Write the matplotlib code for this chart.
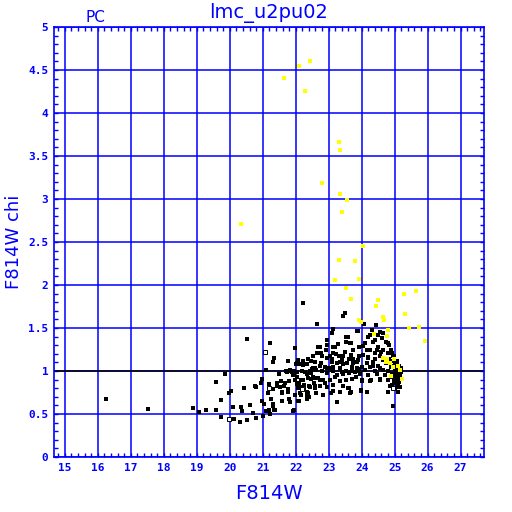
import matplotlib
matplotlib.use("Agg")
import matplotlib.pyplot as plt
from matplotlib.ticker import MultipleLocator

# ---------------- data ----------------
black_x = [
    16.25, 17.51, 18.90, 19.06, 19.27, 19.59, 19.57, 19.87, 19.73, 19.73, 19.97, 20.03, 20.09, 20.12,
    20.31, 20.35, 20.38, 20.42, 20.51, 20.60, 20.69, 20.78, 20.81,
    20.51, 21.21, 21.33, 21.31, 21.78, 21.10, 21.50, 21.72, 21.79, 20.99, 20.95, 21.18, 21.43, 21.55,
    21.68, 21.30, 21.51, 21.64, 21.77, 20.79, 20.43, 21.16, 21.24, 21.58, 21.30, 20.98, 21.04, 21.19,
    21.34, 21.22, 20.61, 20.70, 20.79, 21.00, 21.80, 21.58, 21.80,
    22.21, 23.49, 23.44, 22.66, 23.12, 23.10, 23.85, 23.59, 22.96, 23.29, 23.52, 23.67, 23.14, 22.73,
    21.97, 22.92, 22.78, 23.74, 23.49, 23.13, 23.32, 23.67, 22.94, 23.09, 23.39, 23.62, 22.06, 22.45,
    22.59, 22.78, 22.03, 22.11, 22.23, 22.35, 23.24, 23.44, 23.74, 23.85, 22.89, 23.04, 23.14, 23.34,
    23.70, 22.51, 22.63, 21.88, 21.95, 22.05, 22.18, 22.28, 22.43, 22.79, 22.94, 23.14, 23.39, 23.54,
    23.62, 23.70, 23.80, 23.90, 21.92, 21.98, 22.05, 22.21, 22.38, 22.53, 22.68, 22.83, 23.04, 23.19,
    23.34, 23.54, 23.70, 22.03, 22.13, 22.25, 22.43, 22.58, 22.73, 22.96, 23.14, 23.44, 23.59, 23.67,
    22.12, 22.38, 22.63, 22.83, 23.14, 23.34, 22.08, 22.33, 23.24, 21.95,
    24.42, 24.08, 24.32, 23.88, 24.20, 24.50, 24.62, 24.81, 24.35, 24.10, 23.92, 24.50, 24.25, 24.65,
    24.40, 24.81, 24.05, 24.20, 24.55, 23.90, 24.35, 24.75, 24.00, 24.25, 24.50, 23.85, 24.10, 24.40,
    24.65, 24.81, 23.95, 24.20, 24.45, 24.71, 24.00, 24.25, 24.55, 24.81, 24.86, 24.96, 25.11, 24.81,
    25.01, 23.98, 24.15, 24.96,
    23.54, 24.55, 24.65, 24.25, 24.41, 24.75, 24.84, 22.96, 23.19, 23.64, 24.03, 24.15, 24.47, 24.60,
    24.88, 24.92, 24.98, 24.84, 24.65, 24.40, 24.20, 23.91, 23.74, 23.44, 23.22, 23.04, 22.79, 22.65,
    22.53, 22.37, 22.21, 23.10, 23.34, 23.56, 24.15, 24.35, 24.55, 24.96, 25.08, 25.16, 25.04, 24.94,
    25.06, 25.14, 25.01, 25.06, 25.16, 25.10, 24.94, 24.15, 23.97, 23.62, 23.64, 23.24, 23.06, 22.89,
    22.75, 22.58, 22.41, 22.33, 22.15, 22.15, 24.00, 24.27, 24.55, 23.83, 23.44, 23.24, 23.91, 23.70,
    22.49, 22.73, 22.94,
    22.69, 22.01, 22.23, 22.59, 21.82, 21.74, 21.94, 22.05, 22.19, 22.33, 22.45, 22.03, 22.15, 22.45,
    22.59, 22.11, 22.25, 22.41, 22.55, 21.42, 21.77, 21.57, 22.08, 21.98, 22.11, 22.33, 21.82, 21.30,
    21.37, 21.92, 21.10,
    25.00, 25.03, 25.06, 25.09, 25.12, 25.15, 25.18, 25.02, 25.05, 25.08, 25.11, 25.14, 25.00, 25.04,
    25.07, 25.10, 25.13, 25.17, 25.02, 25.06, 25.09, 25.12, 24.98, 25.04, 25.08, 25.11, 25.15, 25.20,
    24.90, 24.93, 24.88, 24.92, 24.95,
]
black_y = [
    0.67, 0.56, 0.57, 0.52, 0.55, 0.55, 0.87, 0.96, 0.66, 0.47, 0.74, 0.77, 0.58, 0.44,
    0.41, 0.58, 0.53, 0.80, 0.43, 0.61, 0.51, 0.82, 0.45,
    1.37, 1.33, 1.15, 1.10, 1.12, 1.01, 0.97, 1.00, 1.00, 0.91, 0.86, 0.85, 0.86, 0.88,
    0.86, 0.79, 0.81, 0.82, 0.79, 0.81, 0.80, 0.74, 0.67, 0.65, 0.62, 0.65, 0.62, 0.55,
    0.55, 0.50, 0.60, 0.51, 0.45, 0.48, 0.88, 0.76, 0.68,
    1.79, 1.68, 1.64, 1.55, 1.49, 1.44, 1.47, 1.40, 1.36, 1.31, 1.34, 1.33, 1.28, 1.28,
    1.27, 1.24, 1.21, 1.24, 1.22, 1.21, 1.18, 1.19, 1.15, 1.14, 1.13, 1.14, 1.13, 1.12,
    1.10, 1.09, 1.09, 1.08, 1.09, 1.08, 1.09, 1.08, 1.09, 1.11, 1.05, 1.03, 1.05, 1.04,
    1.05, 1.03, 1.01, 0.99, 1.00, 0.99, 1.00, 0.99, 1.00, 1.00, 0.98, 1.00, 0.99, 1.00,
    0.98, 1.00, 0.99, 1.00, 0.95, 0.90, 0.93, 0.90, 0.92, 0.93, 0.92, 0.90, 0.89, 0.93,
    0.88, 0.90, 0.91, 0.85, 0.81, 0.84, 0.81, 0.80, 0.83, 0.81, 0.84, 0.82, 0.80, 0.76,
    0.74, 0.75, 0.75, 0.72, 0.77, 0.76, 0.65, 0.68, 0.64, 0.55,
    1.53, 1.55, 1.48, 1.47, 1.40, 1.42, 1.38, 1.33, 1.34, 1.32, 1.28, 1.28, 1.24, 1.24,
    1.21, 1.21, 1.19, 1.15, 1.17, 1.13, 1.11, 1.09, 1.05, 1.05, 1.06, 1.03, 1.01, 1.00,
    1.01, 1.00, 0.97, 0.95, 0.97, 0.95, 0.90, 0.88, 0.90, 0.90, 0.83, 0.80, 0.81, 0.76,
    0.79, 0.77, 0.76, 0.59,
    1.39, 1.45, 1.44, 1.42, 1.36, 1.34, 1.30, 1.30, 1.28, 1.32, 1.29, 1.25, 1.24, 1.22,
    1.24, 1.21, 1.17, 1.14, 1.13, 1.14, 1.16, 1.17, 1.14, 1.18, 1.20, 1.17, 1.18, 1.21,
    1.17, 1.14, 1.12, 1.11, 1.10, 1.09, 1.09, 1.06, 1.04, 1.06, 1.02, 0.98, 0.97, 0.93,
    0.91, 0.87, 0.86, 0.81, 0.81, 0.76, 0.59, 0.76, 0.78, 0.80, 0.75, 0.64, 0.75, 0.86,
    0.90, 0.83, 0.70, 0.76, 0.90, 0.72, 0.88, 0.90, 0.91, 0.93, 0.97, 0.95, 1.02, 1.03,
    1.02, 1.06, 1.04,
    1.28, 1.08, 1.07, 1.03, 1.01, 0.99, 0.98, 0.99, 1.00, 0.97, 0.98, 0.93, 0.90, 0.91,
    0.92, 0.86, 0.83, 0.83, 0.86, 0.82, 0.76, 0.74, 0.80, 0.72, 0.65, 0.72, 0.64, 0.59,
    0.55, 0.54, 0.53,
    1.02, 0.98, 1.05, 0.95, 1.00, 0.93, 1.03, 0.90, 1.08, 0.99, 0.92, 1.06, 0.96, 1.00,
    0.94, 1.04, 0.89, 0.97, 1.10, 1.12, 0.86, 1.01, 0.88, 0.92, 1.07, 0.95, 1.00, 0.99,
    1.05, 0.97, 1.12, 0.84, 1.18,
]

open_x = [19.98, 21.07, 21.20, 22.21, 22.19, 24.94, 24.90]
open_y = [0.44, 1.22, 0.80, 0.80, 0.79, 0.80, 0.94]

yellow_x = [
    22.43, 22.09, 21.66, 22.27, 23.30, 23.33, 22.81, 23.33, 23.57, 23.40, 24.03, 23.30, 23.79, 23.18,
    23.91, 23.52, 23.67, 24.50, 24.44, 25.29, 25.66, 25.30, 24.64, 20.34, 24.67, 24.79, 25.44, 25.74,
    25.92, 24.76, 23.91, 23.98, 24.37, 24.78, 24.86, 24.99, 25.10, 25.16, 24.90, 25.22, 24.64, 24.73,
    24.96,
]
yellow_y = [
    4.61, 4.55, 4.41, 4.26, 3.66, 3.57, 3.19, 3.06, 2.99, 2.85, 2.45, 2.29, 2.28, 2.06,
    2.07, 1.97, 1.84, 1.83, 1.76, 1.90, 1.93, 1.66, 1.63, 2.71, 1.59, 1.48, 1.50, 1.51,
    1.35, 1.41, 1.59, 1.57, 1.43, 1.14, 1.09, 1.14, 1.06, 1.01, 0.94, 0.91, 1.15, 1.10,
    1.05,
]

x_ticks = [15, 16, 17, 18, 19, 20, 21, 22, 23, 24, 25, 26, 27]
y_ticks = [0, 0.5, 1, 1.5, 2, 2.5, 3, 3.5, 4, 4.5, 5]
y_tick_labels = ["0", "0.5", "1", "1.5", "2", "2.5", "3", "3.5", "4", "4.5", "5"]

# ---------------- figure ----------------
BLUE = "#0000ff"
fig = plt.figure(figsize=(5.12, 5.12), dpi=100)
ax = fig.add_axes([54 / 512, 55 / 512, 430 / 512, 430 / 512])
ax.set_xlim(14.67, 27.71)
ax.set_ylim(0, 5)

ax.set_xticks(x_ticks)
ax.set_yticks(y_ticks)
ax.set_yticklabels(y_tick_labels)
ax.xaxis.set_minor_locator(MultipleLocator(0.2))
ax.yaxis.set_minor_locator(MultipleLocator(0.1))
ax.tick_params(which="both", direction="in", top=True, right=True, color=BLUE,
               width=1.0, labelcolor=BLUE)
ax.tick_params(which="major", length=3, labelsize=8, pad=4)
ax.tick_params(which="minor", length=3)
for lab in ax.get_xticklabels() + ax.get_yticklabels():
    lab.set_fontweight("bold")
    lab.set_family("DejaVu Sans Mono")

for s in ax.spines.values():
    s.set_color(BLUE)
    s.set_linewidth(1.2)

ax.grid(True, which="major", color=BLUE, linewidth=1.1)
ax.set_axisbelow(True)
ax.axhline(1.0, color="black", linewidth=1.1, zorder=2)

ax.plot(black_x, black_y, linestyle="none", marker="s", markersize=2.2,
        color="black", markeredgewidth=0, antialiased=False, zorder=3)
ax.plot(open_x, open_y, linestyle="none", marker="s", markersize=2.6,
        markerfacecolor="white", markeredgecolor="black", markeredgewidth=0.7, zorder=3)
ax.plot(yellow_x, yellow_y, linestyle="none", marker="s", markersize=2.2,
        color="#ffff00", markeredgewidth=0, antialiased=False, zorder=4)

ax.set_xlabel("F814W", color=BLUE, fontsize=14, labelpad=8)
ax.set_ylabel("F814W chi", color=BLUE, fontsize=13)
ax.yaxis.set_label_coords((23 - 54) / 430, 0.5)
fig.text(269 / 512, 1 - 13 / 512, "lmc_u2pu02", color=BLUE, fontsize=14,
         ha="center", va="center")
fig.text(95 / 512, 1 - 18 / 512, "PC", color=BLUE, fontsize=11,
         ha="center", va="center")

fig.savefig("out.png", dpi=100)
